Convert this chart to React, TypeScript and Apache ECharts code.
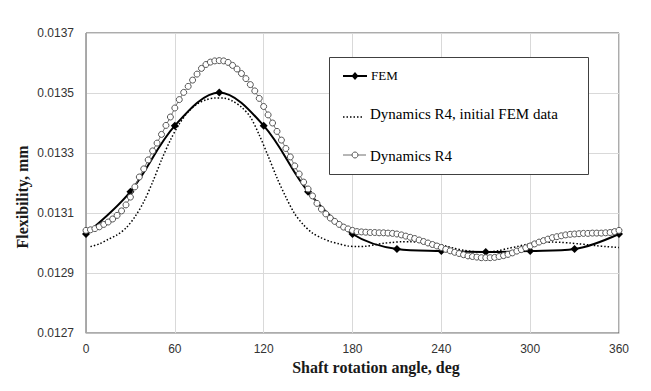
import React, { useEffect, useRef } from "react";
import * as echarts from "echarts";

const xTicks = [0, 60, 120, 180, 240, 300, 360];
const yTicks = [0.0127, 0.0129, 0.0131, 0.0133, 0.0135, 0.0137];

const femAngles = [0, 30, 60, 90, 120, 150, 180, 210, 240, 270, 300, 330, 360];
const femValues = [0.01303, 0.013171, 0.013391, 0.013502, 0.013391, 0.013171, 0.01303, 0.01298, 0.012973, 0.01297, 0.012973, 0.01298, 0.01303];

const initAngles = [3, 9, 15, 21, 27, 33, 39, 45, 51, 57, 63, 69, 75, 81, 87, 93, 99, 105, 111, 117, 123, 129, 135, 141, 147, 153, 159, 165, 171, 177, 183, 189, 195, 201, 207, 213, 219, 225, 231, 237, 243, 249, 255, 261, 267, 273, 279, 285, 291, 297, 303, 309, 315, 321, 327, 333, 339, 345, 351, 357, 360];
const initValues = [0.012988, 0.012997, 0.013012, 0.013027, 0.01305, 0.013087, 0.013137, 0.013203, 0.013277, 0.013343, 0.013397, 0.013437, 0.013463, 0.013477, 0.013483, 0.013483, 0.013473, 0.013453, 0.01342, 0.01336, 0.01329, 0.013217, 0.013153, 0.013097, 0.01306, 0.013033, 0.013017, 0.013005, 0.012997, 0.01299, 0.012988, 0.012989, 0.012994, 0.012999, 0.013002, 0.013004, 0.013004, 0.013003, 0.013001, 0.012997, 0.01299, 0.012982, 0.012976, 0.012972, 0.01297, 0.012971, 0.012975, 0.012982, 0.012988, 0.012995, 0.013, 0.013002, 0.013003, 0.013002, 0.013, 0.012997, 0.012994, 0.012991, 0.012988, 0.012986, 0.012985];

const r4Angles = [0, 3, 6, 9, 12, 15, 18, 21, 24, 27, 30, 33, 36, 39, 42, 45, 48, 51, 54, 57, 60, 63, 66, 69, 72, 75, 78, 81, 84, 87, 90, 93, 96, 99, 102, 105, 108, 111, 114, 117, 120, 123, 126, 129, 132, 135, 138, 141, 144, 147, 150, 153, 156, 159, 162, 165, 168, 171, 174, 177, 180, 183, 186, 189, 192, 195, 198, 201, 204, 207, 210, 213, 216, 219, 222, 225, 228, 231, 234, 237, 240, 243, 246, 249, 252, 255, 258, 261, 264, 267, 270, 273, 276, 279, 282, 285, 288, 291, 294, 297, 300, 303, 306, 309, 312, 315, 318, 321, 324, 327, 330, 333, 336, 339, 342, 345, 348, 351, 354, 357, 360];
const r4Values = [
  0.013042, 0.013044, 0.013048, 0.013054, 0.013062, 0.01307, 0.01308, 0.013092, 0.013107, 0.013127,
  0.013153, 0.013187, 0.01322, 0.013247, 0.013277, 0.013307, 0.013333, 0.013362, 0.013392, 0.01342,
  0.01345, 0.013478, 0.013502, 0.013522, 0.013543, 0.013563, 0.013582, 0.013595, 0.013603, 0.013607,
  0.013608, 0.013607, 0.013602, 0.013592, 0.01358, 0.013565, 0.013548, 0.013528, 0.013507, 0.013482,
  0.013455, 0.013427, 0.0134, 0.013372, 0.013343, 0.013315, 0.013287, 0.013257, 0.01323, 0.013203,
  0.01318, 0.013157, 0.013132, 0.013113, 0.013097, 0.013083, 0.013072, 0.013062, 0.013053, 0.013047,
  0.013042, 0.013038, 0.013037, 0.013036, 0.013035, 0.013035, 0.013034, 0.013034, 0.013033, 0.013032,
  0.01303, 0.013027, 0.013023, 0.013019, 0.013015, 0.01301, 0.013005, 0.013, 0.012995, 0.01299,
  0.012985, 0.012979, 0.012974, 0.012969, 0.012965, 0.012961, 0.012957, 0.012955, 0.012953, 0.012951,
  0.012951, 0.012951, 0.012952, 0.012955, 0.012958, 0.012962, 0.012967, 0.012973, 0.012978, 0.012984,
  0.01299, 0.012997, 0.013003, 0.013008, 0.013013, 0.013018, 0.013021, 0.013024, 0.013027, 0.013029,
  0.01303, 0.013031, 0.013032, 0.013032, 0.013033, 0.013033, 0.013033, 0.013034, 0.013035, 0.013038,
  0.013042,
];

const seriesNames = ["FEM", "Dynamics R4, initial FEM data", "Dynamics R4"];
const xTitle = "Shaft rotation angle, deg";
const yTitle = "Flexibility, mm";

const zip = (a: number[], b: number[]) => a.map((v, i) => [v, b[i]]);

export default function App() {
  const ref = useRef<HTMLDivElement>(null);
  useEffect(() => {
    if (!ref.current) return;
    const chart = echarts.init(ref.current, null, { renderer: "svg" });
    const serif = "'Liberation Serif', 'Times New Roman', serif";
    const sans = "'Liberation Sans', Arial, sans-serif";
    const Z = 100;
    chart.setOption({
      animation: false,
      backgroundColor: "#ffffff",
      grid: {
        left: 86,
        top: 33,
        width: 533,
        height: 300,
        show: true,
        borderColor: "#595959",
        borderWidth: 1,
        backgroundColor: "transparent",
      },
      xAxis: {
        type: "value",
        min: xTicks[0],
        max: xTicks[xTicks.length - 1],
        interval: 60,
        axisLine: { show: true, lineStyle: { color: "#bfbfbf", width: 1 } },
        axisTick: { show: false },
        splitLine: { show: true, lineStyle: { color: "#d9d9d9", width: 1 } },
        axisLabel: { color: "#333", fontFamily: sans, fontSize: 12, margin: 10 },
      },
      yAxis: {
        type: "value",
        min: yTicks[0],
        max: yTicks[yTicks.length - 1],
        interval: 0.0002,
        axisLine: { show: true, lineStyle: { color: "#a6a6a6", width: 1 } },
        axisTick: { show: false },
        splitLine: { show: true, lineStyle: { color: "#d9d9d9", width: 1 } },
        axisLabel: {
          color: "#333",
          fontFamily: sans,
          fontSize: 12,
          margin: 12,
          formatter: (v: number) => v.toFixed(4),
        },
      },
      series: [
        {
          name: seriesNames[0],
          type: "line",
          data: zip(femAngles, femValues),
          smooth: 0.35,
          symbol: "diamond",
          symbolSize: 8,
          itemStyle: { color: "#000" },
          lineStyle: { color: "#000", width: 2 },
          z: 3,
        },
        {
          name: seriesNames[1],
          type: "line",
          data: zip(initAngles, initValues),
          smooth: 0.3,
          showSymbol: false,
          symbol: "none",
          lineStyle: { color: "#000", width: 1.5, type: [1.5, 2] },
          z: 2,
        },
        {
          name: seriesNames[2],
          type: "line",
          data: zip(r4Angles, r4Values),
          smooth: 0.2,
          symbol: "circle",
          symbolSize: 6,
          itemStyle: { color: "#ffffff", borderColor: "#555555", borderWidth: 1 },
          lineStyle: { color: "#6e6e6e", width: 1 },
          z: 4,
        },
      ],
      graphic: [
        {
          type: "text",
          x: 22,
          y: 197,
          rotation: Math.PI / 2,
          style: {
            text: yTitle,
            font: `bold 16px ${serif}`,
            fill: "#1a1a1a",
            align: "center",
            verticalAlign: "middle",
          },
        },
        {
          type: "text",
          x: 376,
          y: 367,
          style: {
            text: xTitle,
            font: `bold 16px ${serif}`,
            fill: "#1a1a1a",
            align: "center",
            verticalAlign: "middle",
          },
        },
        {
          type: "rect",
          z: Z,
          shape: { x: 329.5, y: 57.5, width: 259, height: 117 },
          style: { fill: "#ffffff", stroke: "#404040", lineWidth: 1 },
        },
        {
          type: "line",
          z: Z + 1,
          shape: { x1: 343, y1: 76, x2: 367, y2: 76 },
          style: { stroke: "#000", lineWidth: 2 },
        },
        {
          type: "polygon",
          z: Z + 2,
          shape: { points: [[355, 72], [358.5, 76], [355, 80], [351.5, 76]] },
          style: { fill: "#000" },
        },
        {
          type: "text",
          z: Z + 1,
          x: 371,
          y: 75,
          style: { text: seriesNames[0], font: `13px ${serif}`, fill: "#000", verticalAlign: "middle" },
        },
        {
          type: "line",
          z: Z + 1,
          shape: { x1: 343, y1: 117, x2: 364, y2: 117 },
          style: { stroke: "#000", lineWidth: 1.5, lineDash: [1.5, 2] },
        },
        {
          type: "text",
          z: Z + 1,
          x: 370,
          y: 114,
          style: { text: seriesNames[1], font: `15px ${serif}`, fill: "#000", verticalAlign: "middle" },
        },
        {
          type: "line",
          z: Z + 1,
          shape: { x1: 343, y1: 155, x2: 366, y2: 155 },
          style: { stroke: "#6e6e6e", lineWidth: 1 },
        },
        {
          type: "circle",
          z: Z + 2,
          shape: { cx: 355, cy: 155, r: 3 },
          style: { fill: "#fff", stroke: "#555555", lineWidth: 1 },
        },
        {
          type: "text",
          z: Z + 1,
          x: 370,
          y: 156,
          style: { text: seriesNames[2], font: `15px ${serif}`, fill: "#000", verticalAlign: "middle" },
        },
      ],
    });
    return () => chart.dispose();
  }, []);
  return (
    <div
      ref={ref}
      style={{ position: "absolute", left: 0, top: 0, width: 651, height: 391 }}
    />
  );
}
